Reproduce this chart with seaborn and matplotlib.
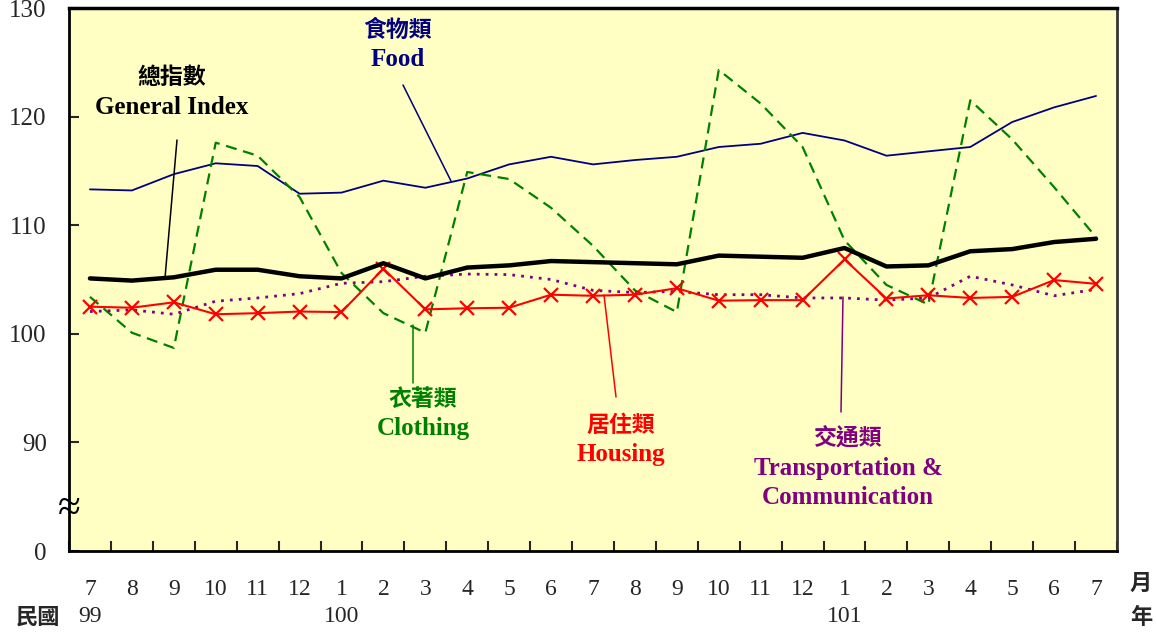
import matplotlib
matplotlib.use("Agg")
import matplotlib.pyplot as plt
from matplotlib.lines import Line2D
import numpy as np
import pandas as pd
import seaborn as sns

# 月份 (民國99年7月 ~ 101年7月)
months = ["7", "8", "9", "10", "11", "12",
          "1", "2", "3", "4", "5", "6", "7", "8", "9", "10", "11", "12",
          "1", "2", "3", "4", "5", "6", "7"]
years = {0: "99", 6: "100", 18: "101"}

general = [105.1, 104.9, 105.2, 105.9, 105.9, 105.3, 105.1, 106.5, 105.1, 106.1,
           106.3, 106.7, 106.6, 106.5, 106.4, 107.2, 107.1, 107.0, 107.9, 106.2,
           106.3, 107.6, 107.8, 108.45, 108.75]
food = [113.3, 113.2, 114.7, 115.7, 115.45, 112.9, 113.0, 114.1, 113.45, 114.3,
        115.6, 116.3, 115.6, 116.0, 116.3, 117.2, 117.5, 118.5, 117.8, 116.4,
        116.8, 117.2, 119.5, 120.85, 121.9]
clothing = [103.4, 100.1, 98.7, 117.6, 116.4, 112.6, 105.6, 101.9, 100.1, 114.9,
            114.25, 111.6, 108.1, 104.0, 102.0, 124.3, 121.2, 117.2, 108.6, 104.5,
            102.7, 121.5, 117.9, 113.5, 108.9]
housing = [102.5, 102.4, 102.9, 101.8, 101.9, 102.05, 102.0, 106.0, 102.25, 102.35,
           102.4, 103.6, 103.5, 103.6, 104.2, 103.05, 103.1, 103.1, 106.85, 103.25,
           103.55, 103.3, 103.4, 104.95, 104.6]
transport = [102.05, 102.2, 101.8, 103.0, 103.3, 103.7, 104.65, 104.8, 105.3, 105.5,
             105.45, 105.0, 104.0, 103.8, 103.9, 103.6, 103.6, 103.3, 103.3, 103.1,
             103.3, 105.3, 104.5, 103.5, 104.1]

W, H = 1157, 632
SERIF = ["Liberation Serif", "DejaVu Serif"]
CJK = ["Noto Sans CJK TC", "DejaVu Sans"]

df = pd.DataFrame({"t": np.arange(len(months)),
                   "general": general, "food": food, "clothing": clothing,
                   "housing": housing, "transport": transport})

sns.set_style("white")
plt.rcParams["font.family"] = SERIF

fig = plt.figure(figsize=(W / 100, H / 100), dpi=100)
ax = fig.add_axes([69 / W, 1 - 551 / H, (1117 - 69) / W, (551 - 8) / H])
ax.set_facecolor("#FFFFC4")

sns.lineplot(data=df, x="t", y="food", ax=ax, color="#000080", lw=1.3)
sns.lineplot(data=df, x="t", y="clothing", ax=ax, color="#008000", lw=1.6,
             linestyle=(0, (5, 3)))
sns.lineplot(data=df, x="t", y="transport", ax=ax, color="#800080", lw=2,
             linestyle=(0, (1, 2.2)))
sns.lineplot(data=df, x="t", y="housing", ax=ax, color="#FF0000", lw=1.5,
             marker="x", markersize=10, markeredgewidth=1.6, markeredgecolor="#FF0000")
sns.lineplot(data=df, x="t", y="general", ax=ax, color="black", lw=3.2)

ax.set_xlim(-0.5, len(months) - 0.5)
ax.set_ylim(80, 130)
ax.set_xlabel("")
ax.set_ylabel("")

ax.set_yticks([80, 90, 100, 110, 120, 130], labels=["0", "90", "100", "110", "120", "130"])
ax.set_xticks(np.arange(len(months)), labels=months)
ax.set_xticks(np.arange(-0.5, len(months)), minor=True)
ax.tick_params(axis="y", direction="in", length=7, width=1.5, labelsize=18, pad=16, left=True)
ax.tick_params(axis="x", which="major", length=0, labelsize=17, pad=20)
ax.tick_params(axis="x", which="minor", direction="in", length=7, width=1.5, bottom=True)
for side in ["left", "bottom", "top", "right"]:
    ax.spines[side].set_visible(True)
    ax.spines[side].set_color("black")
    ax.spines[side].set_linewidth(2)
ax.spines["top"].set_linewidth(2.5)
ax.spines["right"].set_color("#333333")

# 軸斷裂符號
ax.text(0, 83.8, "≈", transform=ax.get_yaxis_transform(), ha="center", va="center",
        fontsize=30, family=SERIF, color="black")


def fx(x):
    return x / W


def fy(y):
    return 1 - y / H


# 年份列
fig.text(fx(38), fy(617), "民國", ha="center", va="center", fontsize=16,
         family=CJK, weight="bold")
for i, yr in years.items():
    xc = 69 + (1117 - 69) / len(months) * (i + 0.5)
    fig.text(fx(xc), fy(617), yr, ha="center", va="center", fontsize=17)
fig.text(fx(1141), fy(583), "月", ha="center", va="center", fontsize=16,
         family=CJK, weight="bold")
fig.text(fx(1141), fy(617), "年", ha="center", va="center", fontsize=16,
         family=CJK, weight="bold")

# 標籤與引線
labels = [
    ("總指數", ["General Index"], 172, 77, "black", (177, 140, 165, 278)),
    ("食物類", ["Food"], 398, 30, "#000080", (403, 85, 451, 181)),
    ("衣著類", ["Clothing"], 423, 399, "#008000", (413, 325, 413, 383)),
    ("居住類", ["Housing"], 621, 425, "#FF0000", (604, 295, 616, 397)),
    ("交通類", ["Transportation &", "Communication"], 848, 438, "#800080",
     (843, 297, 841, 412)),
]
for zh, en_lines, xc, yc, col, (x0, y0, x1, y1) in labels:
    fig.text(fx(xc), fy(yc), zh, ha="center", va="center", fontsize=16.5,
             family=CJK, weight="bold", color=col)
    for k, line in enumerate(en_lines):
        fig.text(fx(xc), fy(yc + 30 + 29.5 * k), line, ha="center", va="center",
                 fontsize=18, family=SERIF, weight="bold", color=col)
    fig.add_artist(Line2D([fx(x0), fx(x1)], [fy(y0), fy(y1)], color=col, lw=1.1,
                          transform=fig.transFigure))

fig.savefig("out.png", dpi=100, facecolor="white")
